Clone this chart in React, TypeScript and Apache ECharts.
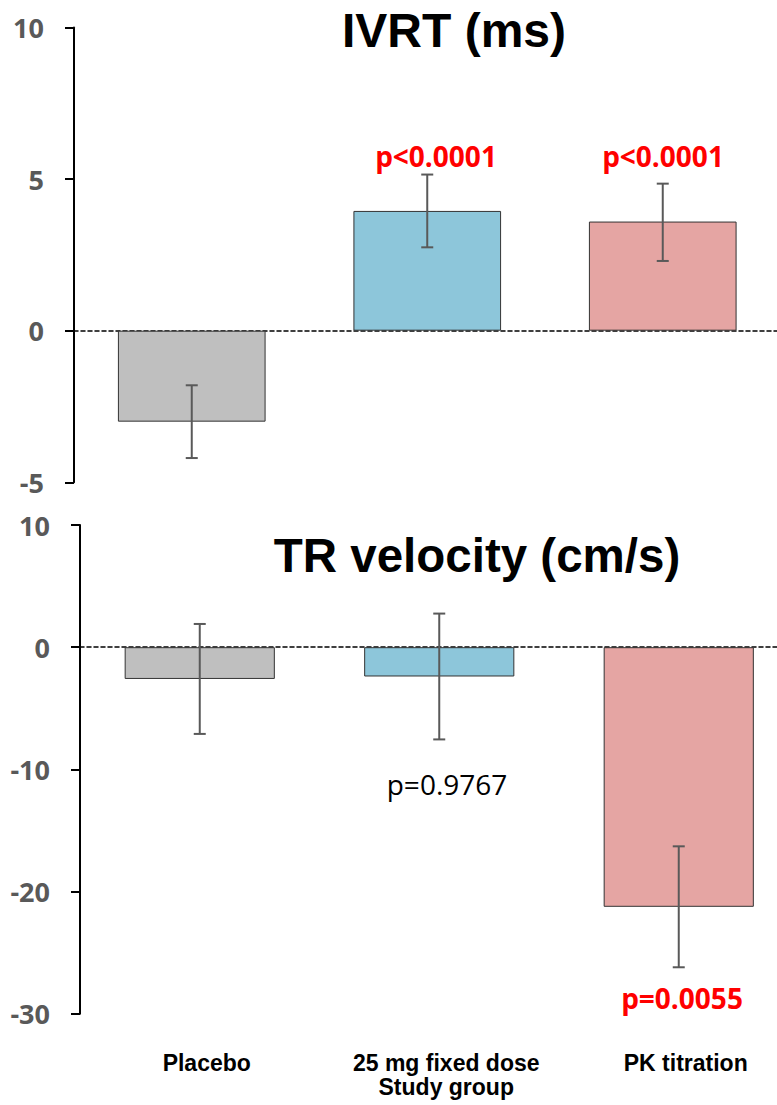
import React, { useEffect, useRef } from "react";
import * as echarts from "echarts";

const categories = ["Placebo", "25 mg fixed dose", "PK titration"];
const axisTitle = "Study group";

const ivrtTitle = "IVRT (ms)";
const ivrtMean = [-3.0, 3.95, 3.6];
const ivrtLow = [-4.2, 2.75, 2.3];
const ivrtHigh = [-1.8, 5.15, 4.85];
const ivrtMin = -5;
const ivrtMax = 10;
const ivrtStep = 5;

const trTitle = "TR velocity (cm/s)";
const trMean = [-2.6, -2.4, -21.25];
const trLow = [-7.1, -7.55, -26.2];
const trHigh = [1.9, 2.75, -16.3];
const trMin = -30;
const trMax = 10;
const trStep = 10;

const barColors = ["#BFBFBF", "#8DC6DA", "#E5A5A3"];

const ivrtPValues = ["", "p<0.0001", "p<0.0001"];
const trPValues = ["", "p=0.9767", "p=0.0055"];

const errRender = (params: any, api: any) => {
  const x = api.value(0);
  const lo = api.value(1);
  const hi = api.value(2);
  const p1 = api.coord([x, hi]);
  const p2 = api.coord([x, lo]);
  const half = 6;
  const style = { stroke: "#595959", lineWidth: 2 };
  return {
    type: "group",
    children: [
      { type: "line", shape: { x1: p1[0], y1: p1[1], x2: p2[0], y2: p2[1] }, style },
      { type: "line", shape: { x1: p1[0] - half, y1: p1[1], x2: p1[0] + half, y2: p1[1] }, style },
      { type: "line", shape: { x1: p2[0] - half, y1: p2[1], x2: p2[0] + half, y2: p2[1] }, style },
    ],
  };
};

const yAxisBase = (gridIndex: number, min: number, max: number, step: number) => ({
  type: "value",
  gridIndex,
  min,
  max,
  interval: step,
  axisLine: { show: true, onZero: false, lineStyle: { color: "#000", width: 2 } },
  axisTick: { show: true, length: 9, lineStyle: { color: "#000", width: 2 } },
  splitLine: { show: false },
  axisLabel: {
    color: "#595959",
    fontFamily: "Open Sans",
    fontWeight: "bold",
    fontSize: 27,
    margin: 30,
  },
});

const zeroAxis = (gridIndex: number) => ({
  type: "category",
  gridIndex,
  data: categories,
  axisLine: {
    show: true,
    onZero: true,
    lineStyle: { color: "#000", width: 1.5, type: [4, 3] },
  },
  axisTick: { show: false },
  axisLabel: { show: false },
});

const barSeries = (axisIndex: number, xIndex: number, values: number[]) => ({
  type: "bar",
  xAxisIndex: xIndex,
  yAxisIndex: axisIndex,
  barWidth: "62.7%",
  data: values.map((v, i) => ({
    value: v,
    itemStyle: { color: barColors[i], borderColor: "#333", borderWidth: 1 },
  })),
});

const errSeries = (axisIndex: number, xIndex: number, lo: number[], hi: number[]) => ({
  type: "custom",
  xAxisIndex: xIndex,
  yAxisIndex: axisIndex,
  renderItem: errRender,
  encode: { x: 0, y: [1, 2] },
  data: categories.map((_, i) => [i, lo[i], hi[i]]),
  z: 5,
});

export default function App() {
  const ref = useRef<HTMLDivElement>(null);
  useEffect(() => {
    if (!ref.current) return;
    const chart = echarts.init(ref.current, null, { renderer: "svg" });

    const pText = (text: string, x: number, y: number, bold: boolean) => ({
      type: "text",
      x,
      y,
      style: {
        text,
        fill: bold ? "#FF0000" : "#000000",
        font: `${bold ? "bold " : ""}28px "Open Sans"`,
        align: "center",
        verticalAlign: "middle",
      },
      z: 10,
    });

    chart.setOption({
      animation: false,
      grid: [
        { left: 74, top: 27.5, width: 706.5, height: 454.8, containLabel: false },
        { left: 80, top: 525, width: 718.5, height: 488.7, containLabel: false },
      ],
      xAxis: [
        zeroAxis(0),
        zeroAxis(1),
        {
          type: "category",
          gridIndex: 1,
          data: categories,
          position: "bottom",
          axisLine: { show: false, onZero: false },
          axisTick: { show: false },
          axisLabel: {
            interval: 0,
            color: "#000",
            fontFamily: "Liberation Sans",
            fontWeight: "bold",
            fontSize: 23,
            margin: 38,
            padding: [0, 0, 0, 14],
          },
          name: axisTitle,
          nameLocation: "middle",
          nameGap: 61,
          nameTextStyle: {
            color: "#000",
            fontFamily: "Liberation Sans",
            fontWeight: "bold",
            fontSize: 23,
            padding: [0, 0, 0, 14],
          },
        },
      ],
      yAxis: [yAxisBase(0, ivrtMin, ivrtMax, ivrtStep), yAxisBase(1, trMin, trMax, trStep)],
      series: [
        barSeries(0, 0, ivrtMean),
        errSeries(0, 0, ivrtLow, ivrtHigh),
        barSeries(1, 1, trMean),
        errSeries(1, 1, trLow, trHigh),
      ],
      graphic: [
        {
          type: "text",
          x: 454,
          y: 30,
          style: {
            text: ivrtTitle,
            fill: "#000",
            font: 'bold 48px "Liberation Sans"',
            align: "center",
            verticalAlign: "middle",
          },
        },
        {
          type: "text",
          x: 477,
          y: 555,
          style: {
            text: trTitle,
            fill: "#000",
            font: 'bold 47.5px "Liberation Sans"',
            align: "center",
            verticalAlign: "middle",
          },
        },
        pText(ivrtPValues[1], 436, 156, true),
        pText(ivrtPValues[2], 663, 156, true),
        pText(trPValues[1], 447, 784, false),
        pText(trPValues[2], 682, 998, true),
      ],
    });
    return () => chart.dispose();
  }, []);
  return (
    <div
      style={{
        position: "fixed",
        left: 0,
        top: 0,
        width: 777,
        height: 1105,
        overflow: "hidden",
        background: "#fff",
      }}
    >
      <div ref={ref} style={{ width: 830, height: 1105 }} />
    </div>
  );
}
